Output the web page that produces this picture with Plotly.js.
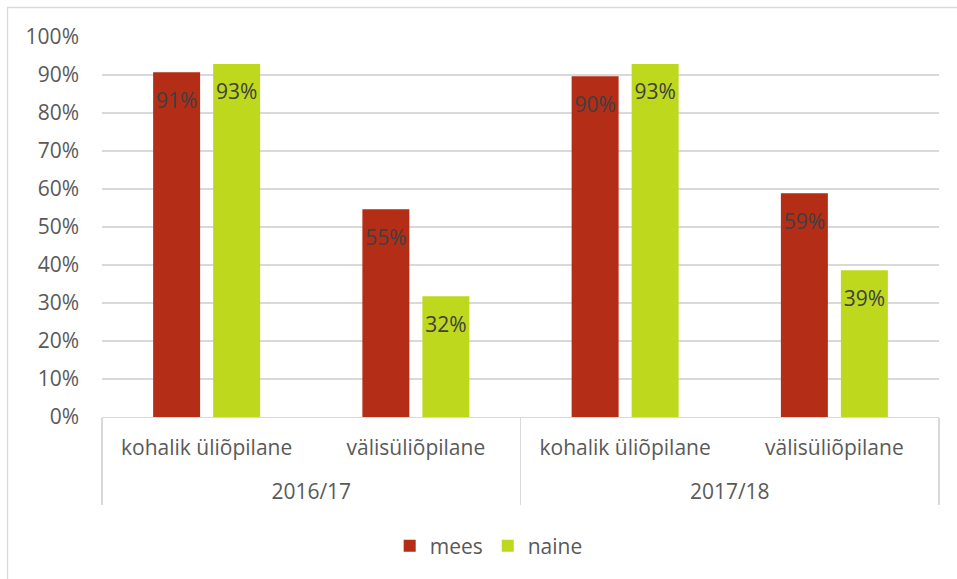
<!DOCTYPE html>
<html>
<head>
<meta charset="utf-8">
<script src="https://cdn.plot.ly/plotly-3.0.1.min.js"></script>
<style>html,body{margin:0;padding:0;background:#fff;}#chart{width:957px;height:579px;}</style>
</head>
<body>
<div id="chart"></div>
<script>
var years = ['2016/17', '2016/17', '2017/18', '2017/18'];
var groups = ['kohalik üliõpilane', 'välisüliõpilane', 'kohalik üliõpilane', 'välisüliõpilane'];
var mees = [0.907, 0.547, 0.897, 0.589];
var naine = [0.929, 0.318, 0.929, 0.386];
var seriesNames = ['mees', 'naine'];
var colors = ['#B32D17', '#BED81D'];

var FONT = '"Open Sans", Carlito, Calibri, sans-serif';
// extra blank line under the inner labels gives the Excel-like spacing between the two label rows
var innerLabels = groups.map(function (g) { return g + '<br><span style="font-size:12px"> </span>'; });
var x = [years, innerLabels];

function barTrace(vals, i) {
  return {
    type: 'bar', name: seriesNames[i], x: x, y: vals,
    marker: {color: colors[i], line: {width: 0}},
    offsetgroup: String(i), hoverinfo: 'y'
  };
}
function labelTrace(vals, i) {
  return {
    type: 'scatter', mode: 'markers+text', x: x, y: vals, showlegend: false,
    offsetgroup: String(i),
    marker: {size: 30, opacity: 0, color: colors[i]},
    text: vals.map(function (v) { return Math.round(v * 100) + '%'; }),
    textposition: 'bottom center',
    textfont: {family: FONT, size: 21, color: '#404040'},
    hoverinfo: 'skip', cliponaxis: false
  };
}

var data = [barTrace(mees, 0), barTrace(naine, 1), labelTrace(mees, 0), labelTrace(naine, 1)];

var layout = {
  width: 957, height: 579,
  margin: {l: 102, r: 18, t: 37, b: 162},
  paper_bgcolor: '#ffffff', plot_bgcolor: '#ffffff',
  font: {family: FONT, size: 21, color: '#595959'},
  barmode: 'group', bargap: 0.4265, bargroupgap: 0.217,
  scattermode: 'group', scattergap: 0.4265,
  showlegend: true,
  legend: {orientation: 'h', x: 0.462, xanchor: 'center', y: -0.34, yanchor: 'middle',
           font: {family: FONT, size: 21, color: '#595959'}, tracegroupgap: 0},
  xaxis: {
    type: 'multicategory', showline: true, linecolor: '#d9d9d9', linewidth: 1.3,
    showdividers: true, dividercolor: '#d9d9d9', dividerwidth: 1.3,
    ticklabelstandoff: 11,
    tickfont: {family: FONT, size: 21, color: '#595959'}, showgrid: false
  },
  yaxis: {
    range: [0, 1], dtick: 0.1, tick0: 0, tickformat: '.0%',
    showgrid: true, gridcolor: '#d9d9d9', gridwidth: 1.3,
    zeroline: false, showline: false, ticks: '', ticklabelstandoff: 22,
    tickfont: {family: FONT, size: 21, color: '#595959'}
  },
  shapes: [{
    type: 'rect', xref: 'paper', yref: 'paper',
    x0: -0.1129, x1: 1.2, y0: -2, y1: 1.0776,
    line: {color: '#d9d9d9', width: 1.3}, fillcolor: 'rgba(0,0,0,0)', layer: 'below'
  }]
};

Plotly.newPlot('chart', data, layout, {displayModeBar: false, staticPlot: true});
</script>
</body>
</html>
